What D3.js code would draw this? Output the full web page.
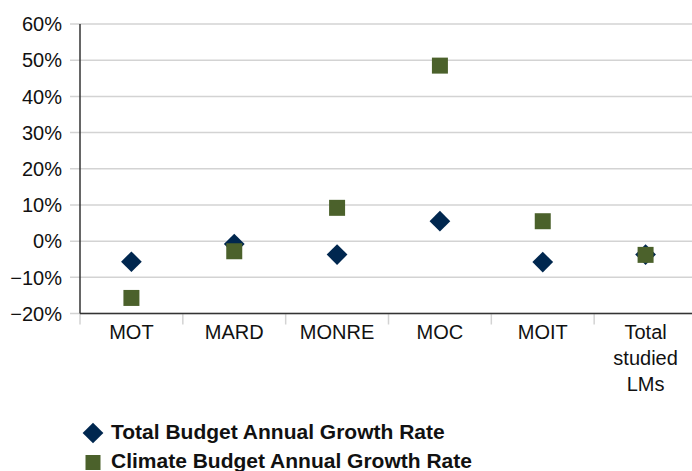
<!DOCTYPE html>
<html>
<head>
<meta charset="utf-8">
<script src="https://cdn.jsdelivr.net/npm/d3@7"></script>
<style>
  body { margin: 0; background: #fff; }
  svg { display: block; }
</style>
</head>
<body>
<div id="chart"></div>
<script>
// categories (multi-line labels split on "\n")
const categories = ["MOT", "MARD", "MONRE", "MOC", "MOIT", "Total\nstudied\nLMs"];
// annual growth rates, in percent
const totalBudget = [-5.7, -0.8, -3.7, 5.5, -5.8, -3.7];
const climateBudget = [-15.7, -2.8, 9.2, 48.5, 5.5, -3.8];
const yTicks = [-20, -10, 0, 10, 20, 30, 40, 50, 60];
const seriesNames = ["Total Budget Annual Growth Rate", "Climate Budget Annual Growth Rate"];

const width = 692, height = 471;
const navy = "#00274f", green = "#4b612b";

const svg = d3.select("#chart").append("svg")
    .attr("width", width)
    .attr("height", height)
    .style("font-family", "'Liberation Sans', Arial, sans-serif");

// scales
const x = d3.scaleBand().domain(categories).range([80, 697]);
const y = d3.scaleLinear().domain([-20, 60]).range([313.5, 24]);

// gridlines (they also reach left of the axis like tick marks)
svg.append("g")
    .selectAll("line")
    .data(yTicks)
    .join("line")
    .attr("x1", 70)
    .attr("x2", width)
    .attr("y1", d => y(d))
    .attr("y2", d => y(d))
    .attr("stroke", "#d3d3d3")
    .attr("stroke-width", 1.5);

// y tick labels
svg.append("g")
    .selectAll("text")
    .data(yTicks)
    .join("text")
    .attr("x", 62)
    .attr("y", d => y(d))
    .attr("dy", "0.36em")
    .attr("text-anchor", "end")
    .style("font-size", "20px")
    .attr("fill", "#111")
    .text(d => (d < 0 ? "\u2212" + Math.abs(d) : d) + "%");

// x axis tick marks at band boundaries
const bounds = categories.map(c => x(c));
svg.append("g")
    .selectAll("line")
    .data(bounds)
    .join("line")
    .attr("x1", d => d)
    .attr("x2", d => d)
    .attr("y1", y(-20))
    .attr("y2", y(-20) + 11)
    .attr("stroke", "#d3d3d3")
    .attr("stroke-width", 1.5);

// axis lines
svg.append("line")
    .attr("x1", 80).attr("x2", 80)
    .attr("y1", y(60)).attr("y2", y(-20))
    .attr("stroke", "#333").attr("stroke-width", 1.5);
svg.append("line")
    .attr("x1", 80).attr("x2", width)
    .attr("y1", y(-20)).attr("y2", y(-20))
    .attr("stroke", "#333").attr("stroke-width", 1.5);

// x labels
const xl = svg.append("g")
    .selectAll("text")
    .data(categories)
    .join("text")
    .attr("x", d => x(d) + x.bandwidth() / 2)
    .attr("y", 339)
    .attr("text-anchor", "middle")
    .style("font-size", "20px")
    .attr("fill", "#111");
xl.each(function(d) {
    d.split("\n").forEach((line, i) => {
        d3.select(this).append("tspan")
            .attr("x", x(d) + x.bandwidth() / 2)
            .attr("dy", i === 0 ? 0 : 26)
            .text(line);
    });
});

const cx = i => x(categories[i]) + x.bandwidth() / 2;
const diamond = d3.symbol().type(d3.symbolSquare).size(215);
const square = d3.symbol().type(d3.symbolSquare).size(256);

// total budget: diamonds
svg.append("g")
    .selectAll("path")
    .data(totalBudget)
    .join("path")
    .attr("d", diamond)
    .attr("transform", (d, i) => `translate(${cx(i)},${y(d)}) rotate(45)`)
    .attr("fill", navy);

// climate budget: squares
svg.append("g")
    .selectAll("path")
    .data(climateBudget)
    .join("path")
    .attr("d", square)
    .attr("transform", (d, i) => `translate(${cx(i)},${y(d)})`)
    .attr("fill", green);

// legend
const legend = svg.append("g");
legend.append("path")
    .attr("d", diamond)
    .attr("transform", "translate(93,433) rotate(45)")
    .attr("fill", navy);
legend.append("path")
    .attr("d", d3.symbol().type(d3.symbolSquare).size(225))
    .attr("transform", "translate(93,462.5)")
    .attr("fill", green);
legend.selectAll("text")
    .data(seriesNames)
    .join("text")
    .attr("x", 111)
    .attr("y", (d, i) => 439 + i * 29)
    .style("font-size", "21px")
    .style("font-weight", "bold")
    .attr("fill", "#111")
    .text(d => d);
</script>
</body>
</html>
